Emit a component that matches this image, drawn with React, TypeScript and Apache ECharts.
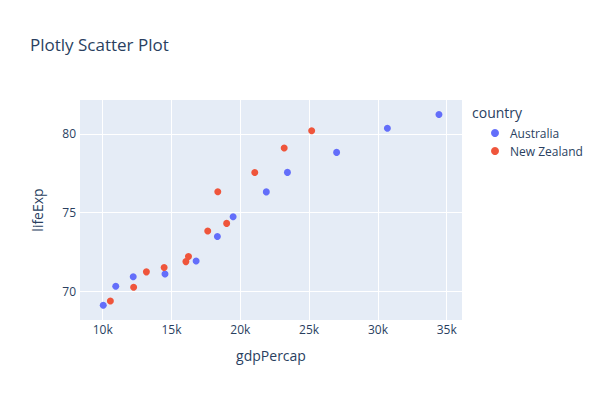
import React, { useEffect, useRef } from "react";
import * as echarts from "echarts";

const ausGdp = [10039.6, 10949.65, 12217.23, 14526.12, 16788.63, 18334.2, 19477.01, 21888.89, 23424.77, 26997.94, 30687.75, 34435.37];
const ausLife = [69.12, 70.33, 70.93, 71.1, 71.93, 73.49, 74.74, 76.32, 77.56, 78.83, 80.37, 81.235];
const nzGdp = [10556.58, 12247.4, 13175.68, 14463.92, 16046.04, 16233.72, 17632.41, 19007.19, 18363.32, 21050.41, 23189.8, 25185.01];
const nzLife = [69.39, 70.26, 71.24, 71.52, 71.89, 72.22, 73.84, 74.32, 76.33, 77.55, 79.11, 80.204];
const countries = ["Australia", "New Zealand"];
const xTicks = [10000, 15000, 20000, 25000, 30000, 35000];
const yTicks = [70, 75, 80];

const FONT = "'Open Sans', 'Noto Sans', sans-serif";
const TXT = "#2a3f5f";

export default function App() {
  const ref = useRef<HTMLDivElement>(null);
  useEffect(() => {
    if (!ref.current) return;
    const chart = echarts.init(ref.current, null, { renderer: "svg" });
    const zip = (xs: number[], ys: number[]) => xs.map((x, i) => [x, ys[i]]);
    chart.setOption({
      animation: false,
      backgroundColor: "#fff",
      textStyle: { fontFamily: FONT },
      title: {
        text: "Plotly Scatter Plot",
        left: 25,
        top: 31,
        textStyle: { fontFamily: FONT, fontSize: 17, fontWeight: "normal", color: TXT },
      },
      graphic: [
        {
          type: "text",
          left: 472,
          top: 105,
          style: { text: "country", fontFamily: FONT, fontSize: 14, fill: TXT },
        },
      ],
      legend: {
        orient: "vertical",
        left: 486,
        top: 122,
        itemGap: 6,
        itemWidth: 8,
        itemHeight: 8,
        icon: "circle",
        data: countries,
        textStyle: { fontFamily: FONT, fontSize: 12, color: TXT, padding: [0, 0, 0, 6] },
      },
      grid: {
        left: 80,
        right: 138,
        top: 100,
        bottom: 80,
        show: true,
        backgroundColor: "#E5ECF6",
        borderWidth: 0,
      },
      xAxis: {
        type: "value",
        min: 8350,
        max: 36110,
        name: "gdpPercap",
        nameLocation: "middle",
        nameGap: 28,
        nameTextStyle: { fontFamily: FONT, fontSize: 14, color: TXT },
        axisLine: { show: false },
        axisTick: { show: false, customValues: xTicks },
        axisLabel: {
          customValues: xTicks,
          margin: 3,
          fontFamily: FONT,
          fontSize: 12,
          color: TXT,
          formatter: (v: number) => v / 1000 + "k",
        },
        splitLine: { show: true, lineStyle: { color: "#fff", width: 1 } },
      },
      yAxis: {
        type: "value",
        min: 68.18,
        max: 82.16,
        name: "lifeExp",
        nameLocation: "middle",
        nameGap: 36,
        nameTextStyle: { fontFamily: FONT, fontSize: 14, color: TXT },
        axisLine: { show: false },
        axisTick: { show: false, customValues: yTicks },
        axisLabel: {
          customValues: yTicks,
          margin: 4,
          fontFamily: FONT,
          fontSize: 12,
          color: TXT,
          formatter: (v: number) => String(v),
        },
        splitLine: { show: true, lineStyle: { color: "#fff", width: 1 } },
      },
      series: [
        {
          name: countries[0],
          type: "scatter",
          symbolSize: 7,
          itemStyle: { color: "#636EFA", opacity: 1 },
          data: zip(ausGdp, ausLife),
        },
        {
          name: countries[1],
          type: "scatter",
          symbolSize: 7,
          itemStyle: { color: "#EF553B", opacity: 1 },
          data: zip(nzGdp, nzLife),
        },
      ],
    });
    return () => chart.dispose();
  }, []);
  return <div ref={ref} style={{ width: 600, height: 400, position: "absolute", left: 0, top: 0 }} />;
}
